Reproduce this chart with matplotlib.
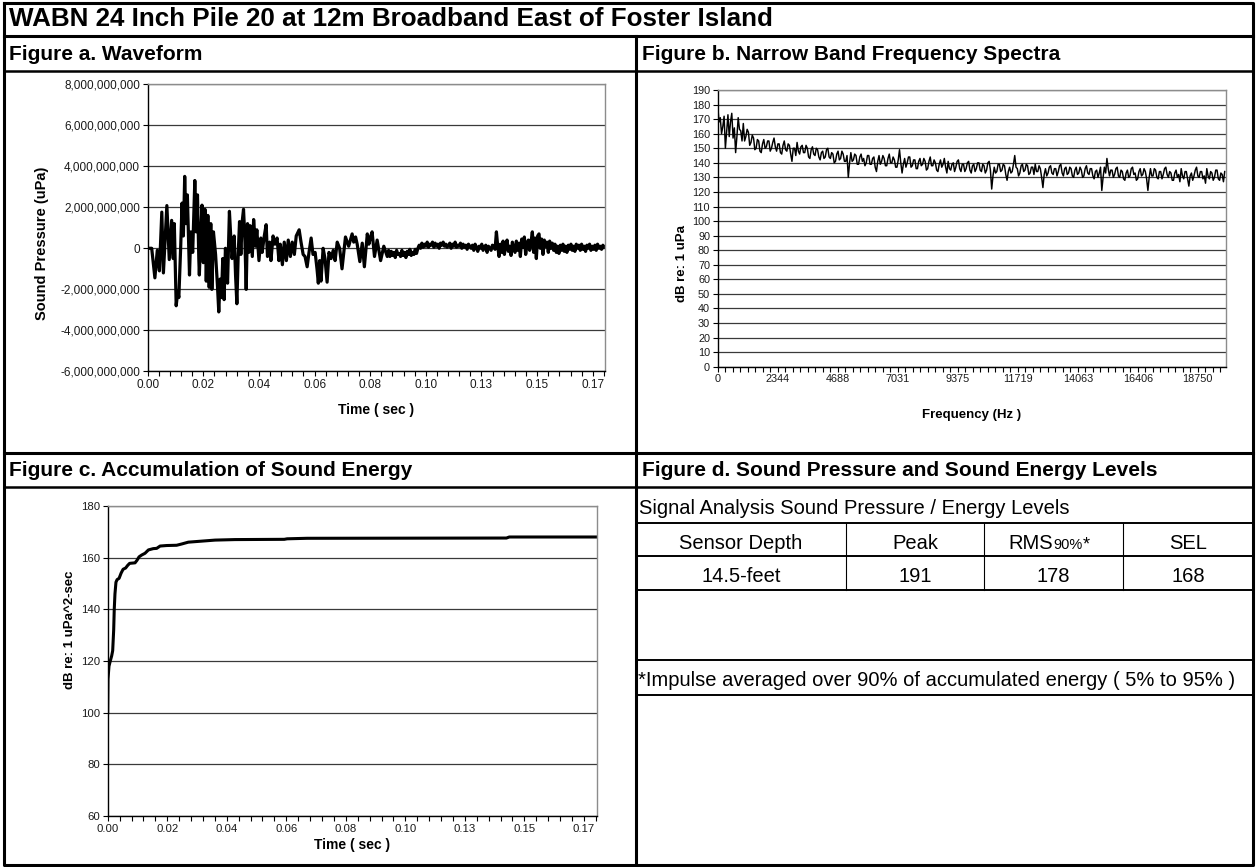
import numpy as np
import matplotlib
matplotlib.use("Agg")
import matplotlib.pyplot as plt
from matplotlib.ticker import MultipleLocator

plt.rcParams['font.family'] = ['Liberation Sans', 'DejaVu Sans']

# ---------------- data ----------------
# Figure a: waveform, first 90 ms read peak by peak (time in ms, pressure in 1e9 uPa)
wave_t_ms = [0.0, 1.5, 2.7, 3.6, 4.4, 5.3, 5.9, 7.2, 8.1, 9.0, 9.6, 10.0, 10.7, 11.3, 11.7,
             12.4, 12.9, 13.4, 13.9, 14.4, 14.9, 15.7, 16.2, 16.9, 17.7, 18.2, 18.7, 19.2,
             19.4, 20.0, 20.4, 20.9, 21.5, 22.0, 22.6, 23.1, 23.7, 24.1, 24.7, 25.5, 26.2,
             26.7, 27.2, 27.7, 28.2, 28.7, 29.2, 30.0, 30.7, 31.3, 31.7, 32.5, 33.0, 33.5,
             34.0, 34.5, 35.0, 35.5, 36.0, 36.5, 37.0, 37.5, 38.0, 38.5, 39.3, 39.8, 40.5,
             41.0, 41.8, 42.5, 43.0, 43.8, 44.5, 45.0, 45.8, 46.3, 47.1, 47.8, 48.6, 49.3,
             49.8, 50.6, 51.3, 52.1, 52.8, 53.6, 54.3, 55.1, 55.8, 56.9, 57.6, 58.4, 59.1,
             59.9, 60.6, 61.4, 62.1, 62.9, 63.6, 64.1, 64.6, 65.1, 65.9, 66.6, 67.4, 68.1,
             68.9, 69.7, 70.4, 71.2, 72.1, 73.0, 74.3, 75.5, 76.8, 77.4, 78.1, 78.7, 79.7,
             80.6, 81.4, 82.5, 83.1, 83.7, 84.3, 85.2, 86.2, 87.5, 88.7, 90.0]
wave_p = [0, 0, -1.44, -0.1, -1.1, 1.76, -1.2, 2.08, -0.55, 1.36, -0.5, 1.2, -2.8, -2.1, -2.4,
          0.1, 2.2, 0.6, 3.5, 1.2, 2.6, -1.3, 0.8, -0.2, 3.3, 0.8, 2.6, -0.5,
          -1.3, 0.9, 2.1, -0.7, 1.9, -1.6, 1.6, -1.9, 1.2, -2.0, 0.8, -0.3, -1.8,
          -3.1, -1.5, -2.4, -0.5, -2.5, 0.0, -1.7, 1.8, 0.3, -0.5, 0.6, -1.3, -2.7,
          -0.3, 1.3, -0.3, 1.3, 1.9, 0.5, -2.0, 1.2, -0.2, 1.1, -0.4, 1.4, 0.1,
          0.9, -0.6, 0.5, -0.2, 0.6, 1.15, -0.4, 0.3, -0.6, 0.6, 0.2, 0.5, -0.6,
          0.2, -0.8, 0.3, -0.6, 0.4, -0.4, 0.3, -0.3, 0.6, 0.9, 0.3, -0.3, -0.4,
          -0.9, -0.2, 0.5, -0.3, -0.2, -1.0, -1.7, -0.6, -1.6, 0.0, -0.5, -1.65, -0.2,
          -0.5, -0.1, -0.6, 0.3, 0.0, -1.0, 0.55, 0.1, 0.7, 0.3, 0.55, 0.2, -0.65,
          0.25, -0.9, 0.7, 0.2, 0.55, 0.8, -0.4, 0.4, -0.6, 0.1, -0.4]
# tail of the waveform, one reading every 0.5 ms from 90.5 ms
wave_tail_start_ms = 90.5
wave_tail_step_ms = 0.5
wave_tail_p = [-0.1, -0.4, -0.15, -0.35, -0.2, -0.45, -0.1, -0.3, -0.25, -0.4,
               -0.1, -0.35, -0.2, -0.45, -0.15, -0.3, -0.05, -0.35, -0.2, -0.3,
               -0.05, -0.25, 0.0,
               0.15, 0.0, 0.25, 0.05, 0.2, 0.1, 0.3, 0.05, 0.2, 0.15,
               0.3, 0.05, 0.25, 0.1, 0.2, 0.0, 0.25, 0.15, 0.3, 0.1,
               0.2, 0.05, 0.15, 0.25, 0.0, 0.2, 0.1, 0.3, 0.05, 0.15,
               0.1, 0.25, 0.0, 0.2, 0.05, 0.15, -0.05, 0.2, 0.1, 0.0,
               0.15, -0.1, 0.2, 0.05, -0.15, 0.1, 0.0, 0.2, -0.1, 0.05,
               0.15, -0.2, 0.1, 0.0, -0.1, 0.15, 0.05, -0.05,
               0.8, 0.1, -0.4, 0.2, -0.2, 0.35, -0.3, 0.15, 0.4, -0.15,
               0.1, -0.35, 0.3, 0.0, -0.2, 0.35, -0.1, 0.25, -0.4, 0.45,
               0.05, 0.55, -0.3, 0.2, 0.4, -0.1, 0.3, 0.8, -0.2, 0.5,
               -0.5, 0.6, 0.7, 0.0, 0.45, -0.3, 0.4, 0.1, 0.3, -0.2,
               0.35, 0.0, 0.25,
               -0.1, 0.2, -0.2, 0.1, -0.25, 0.15, -0.1, 0.2, -0.15, 0.1,
               -0.2, 0.15, -0.05, 0.2, -0.1, 0.1, -0.15, 0.2, 0.0, 0.15,
               -0.1, 0.2, -0.05, 0.1, -0.15, 0.15, 0.0, 0.2, -0.1, 0.1,
               -0.05, 0.15, -0.1, 0.2, 0.0, 0.1, -0.05, 0.15, 0.05]
wave_yticks = [-6e9, -4e9, -2e9, 0, 2e9, 4e9, 6e9, 8e9]
wave_ylabels = ['-6,000,000,000', '-4,000,000,000', '-2,000,000,000', '0',
                '2,000,000,000', '4,000,000,000', '6,000,000,000', '8,000,000,000']

# time axis labels (category axis, one label every 0.0209 s)
time_step = 0.0209
time_labels = ['0.00', '0.02', '0.04', '0.06', '0.08', '0.10', '0.13', '0.15', '0.17']

# Figure b: narrow band spectrum, one value per 50 Hz bin (dB re 1 uPa)
spec_bin_hz = 50
spec_db = [180, 168, 171, 160, 165, 172, 150, 162, 173, 158, 168, 174, 157, 164, 147, 158, 171, 163, 162, 155,
           167, 155, 158, 163, 161, 152, 154, 159, 157, 149, 150, 156, 155, 148, 147, 153, 156, 150, 151, 155,
           155, 148, 150, 154, 157, 151, 148, 153, 153, 147, 146, 152, 155, 149, 148, 153, 152, 146, 141, 150,
           150, 145, 154, 148, 146, 151, 152, 147, 147, 152, 150, 144, 143, 149, 151, 146, 145, 150, 149, 144,
           142, 147, 148, 143, 144, 149, 150, 144, 143, 147, 146, 140, 141, 146, 148, 142, 143, 148, 146, 141,
           141, 145, 130, 140, 147, 141, 142, 146, 145, 139, 139, 144, 146, 141, 143, 138, 140, 145, 145, 139,
           139, 143, 144, 137, 134, 141, 145, 139, 141, 145, 143, 138, 138, 143, 146, 140, 140, 144, 142, 137,
           137, 142, 149, 140, 133, 139, 143, 137, 140, 144, 144, 137, 138, 142, 142, 136, 136, 141, 143, 138,
           139, 143, 141, 135, 136, 141, 144, 138, 138, 142, 140, 135, 134, 139, 142, 137, 139, 143, 137, 133,
           141, 136, 135, 139, 140, 134, 137, 141, 142, 136, 134, 139, 139, 134, 136, 140, 141, 135, 133, 138,
           139, 134, 136, 140, 140, 135, 134, 139, 138, 133, 135, 140, 141, 135, 122, 131, 137, 133, 134, 139,
           139, 134, 135, 139, 138, 132, 128, 134, 137, 133, 134, 139, 145, 137, 136, 131, 133, 138, 139, 134,
           135, 139, 138, 132, 133, 137, 137, 132, 139, 134, 134, 138, 136, 130, 123, 132, 136, 131, 133, 137,
           138, 133, 132, 136, 136, 131, 134, 138, 139, 133, 131, 136, 137, 132, 133, 137, 136, 131, 130, 135,
           137, 132, 133, 137, 135, 130, 131, 136, 138, 133, 132, 136, 136, 131, 129, 134, 135, 130, 133, 137,
           121, 130, 137, 133, 143, 136, 131, 135, 135, 130, 132, 136, 137, 131, 130, 135, 134, 129, 128, 133,
           135, 130, 131, 136, 137, 132, 133, 128, 129, 134, 136, 131, 132, 136, 134, 129, 121, 130, 136, 131,
           131, 136, 135, 130, 129, 134, 134, 129, 132, 136, 137, 132, 130, 134, 133, 128, 128, 133, 135, 130,
           132, 127, 136, 131, 129, 134, 134, 129, 124, 131, 133, 128, 131, 135, 137, 131, 130, 134, 134, 129,
           131, 126, 136, 131, 129, 134, 133, 128, 130, 135, 135, 129, 128, 133, 132, 127, 134]
freq_step = 2343.75
freq_labels = ['0', '2344', '4688', '7031', '9375', '11719', '14063', '16406', '18750']
spec_yticks = list(range(0, 191, 10))

# Figure c: accumulated sound energy (time in ms, dB re 1 uPa^2-sec)
sel_t_ms = [0.0, 0.1, 0.45, 0.9, 1.4, 1.75, 2.1, 2.3, 2.55, 2.9, 3.3, 4.0, 4.7, 5.4, 6.3,
            7.0, 7.7, 9.6, 10.3, 11.0, 11.9, 13.1, 14.3, 16.0, 17.2, 18.4, 20.7, 24.2,
            26.0, 28.3, 33.0, 37.7, 44.7, 62.0, 63.0, 70.0, 140.0, 141.0, 171.8]
sel_db = [100, 113, 118, 120, 122, 124, 132, 140, 146, 150.5, 151.5, 152, 154, 155.5, 156,
          157, 157.8, 158, 159, 160.3, 161, 161.7, 163, 163.5, 163.6, 164.5, 164.7, 164.8,
          165.3, 166, 166.4, 166.8, 167.0, 167.1, 167.3, 167.5, 167.6, 168.0, 168.0]
sel_yticks = [60, 80, 100, 120, 140, 160, 180]

# Figure d: table
table_cols = ['Sensor Depth', 'Peak', 'RMS', 'SEL']
table_row = ['14.5-feet', '191', '178', '168']

# ---------------- layout ----------------
W, H = 1256, 867
fig = plt.figure(figsize=(W / 100, H / 100), dpi=100)

# full-figure axes in pixel coords for the boxes and headings
bg = fig.add_axes([0, 0, 1, 1])
bg.set_xlim(0, W)
bg.set_ylim(H, 0)
bg.axis('off')


def px_axes(l, t, r, b):
    return fig.add_axes([l / W, 1 - b / H, (r - l) / W, (b - t) / H])


def excel_style(ax, size):
    for s in ['top', 'right']:
        ax.spines[s].set_color('#8c8c8c')
        ax.spines[s].set_linewidth(1.0)
    for s in ['left', 'bottom']:
        ax.spines[s].set_color('black')
        ax.spines[s].set_linewidth(1.0)
    ax.yaxis.grid(True, color='#3a3a3a', lw=0.9)
    ax.set_axisbelow(True)
    ax.tick_params(which='both', direction='out', length=3.5, width=0.8,
                   labelsize=size, pad=2, labelcolor='#1a1a1a')


# boxes
K = 'black'
bg.plot([4, 1253, 1253, 4, 4], [3, 3, 865, 865, 3], color=K, lw=2.2)
bg.plot([4, 1253], [36, 36], color=K, lw=2.2)
bg.plot([4, 1253], [71, 71], color=K, lw=1.8)
bg.plot([636, 636], [36, 865], color=K, lw=2.2)
bg.plot([4, 1253], [453, 453], color=K, lw=2.2)
bg.plot([4, 1253], [487, 487], color=K, lw=1.8)

# headings
bold = dict(fontweight='bold', color='black', va='center')
bg.text(9, 19, 'WABN 24 Inch Pile 20 at 12m Broadband East of Foster Island', fontsize=18.7, **bold)
bg.text(9, 54, 'Figure a. Waveform', fontsize=15, **bold)
bg.text(642, 54, 'Figure b. Narrow Band Frequency Spectra', fontsize=15, **bold)
bg.text(9, 470, 'Figure c. Accumulation of Sound Energy', fontsize=15, **bold)
bg.text(642, 470, 'Figure d. Sound Pressure and Sound Energy Levels', fontsize=15, **bold)

# ---- Figure a ----
ax_a = px_axes(147.7, 84, 605, 371.5)
excel_style(ax_a, 8.5)
tail_t = wave_tail_start_ms + np.arange(len(wave_tail_p)) * wave_tail_step_ms
t_all = np.concatenate([wave_t_ms, tail_t]) / 1000
p_all = np.concatenate([wave_p, wave_tail_p]) * 1e9
ax_a.plot(t_all, p_all, color='black', lw=2.3)
ax_a.set_xlim(0, time_step * 8.22)
ax_a.set_ylim(-6e9, 8e9)
ax_a.set_yticks(wave_yticks)
ax_a.set_yticklabels(wave_ylabels)
ax_a.set_xticks([i * time_step for i in range(len(time_labels))])
ax_a.set_xticklabels(time_labels)
ax_a.xaxis.set_minor_locator(MultipleLocator(time_step / 5))
bg.text(42, 243, 'Sound Pressure (uPa)', rotation=90, ha='center', fontsize=10.5, **bold)
bg.text(376, 410, 'Time ( sec )', ha='center', fontsize=10, **bold)

# ---- Figure b ----
ax_b = px_axes(717.7, 90, 1226, 366.7)
excel_style(ax_b, 7.8)
freqs = np.arange(len(spec_db)) * spec_bin_hz
ax_b.plot(freqs, spec_db, color='black', lw=1.05)
ax_b.set_xlim(0, 19850)
ax_b.set_ylim(0, 190)
ax_b.set_yticks(spec_yticks)
ax_b.set_xticks([i * freq_step for i in range(len(freq_labels))])
ax_b.set_xticklabels(freq_labels)
ax_b.xaxis.set_minor_locator(MultipleLocator(freq_step / 8))
bg.text(682, 263, 'dB re: 1 uPa', rotation=90, ha='center', fontsize=9.5, **bold)
bg.text(972, 415, 'Frequency (Hz )', ha='center', fontsize=9.5, **bold)

# ---- Figure c ----
ax_c = px_axes(107.7, 506, 597, 816)
excel_style(ax_c, 8.2)
ax_c.plot(np.array(sel_t_ms) / 1000, sel_db, color='black', lw=2.2)
ax_c.set_xlim(0, time_step * 8.22)
ax_c.set_ylim(60, 180)
ax_c.set_yticks(sel_yticks)
ax_c.set_xticks([i * time_step for i in range(len(time_labels))])
ax_c.set_xticklabels(time_labels)
ax_c.xaxis.set_minor_locator(MultipleLocator(time_step / 5))
bg.text(70, 630, 'dB re: 1 uPa^2-sec', rotation=90, ha='center', fontsize=9.5, **bold)
bg.text(352, 845, 'Time ( sec )', ha='center', fontsize=10, **bold)

# ---- Figure d: table ----
for y in [523, 556, 590, 660, 695]:
    bg.plot([636, 1253], [y, y], color=K, lw=1.4)
col_edges = [636, 846, 984, 1123, 1253]
for x in col_edges[1:-1]:
    bg.plot([x, x], [523, 590], color=K, lw=0.8)
reg = dict(color='black', fontsize=14.5)
bg.text(639, 509, 'Signal Analysis Sound Pressure / Energy Levels', va='center', **reg)
centers = [(col_edges[i] + col_edges[i + 1]) / 2 for i in range(4)]
for i, c in enumerate(table_cols):
    if c == 'RMS':
        bg.text(1053, 549, 'RMS', ha='right', va='baseline', **reg)
        bg.text(1053, 549, '90%', ha='left', va='baseline', color='black', fontsize=10.5)
        bg.text(1083, 549, '*', ha='left', va='baseline', color='black', fontsize=13)
    else:
        bg.text(centers[i], 549, c, ha='center', va='baseline', **reg)
for i, v in enumerate(table_row):
    bg.text(centers[i], 582, v, ha='center', va='baseline', **reg)
bg.text(638, 680, '*Impulse averaged over 90% of accumulated energy ( 5% to 95% )', va='center', **reg)

fig.savefig('out.png', dpi=100)
